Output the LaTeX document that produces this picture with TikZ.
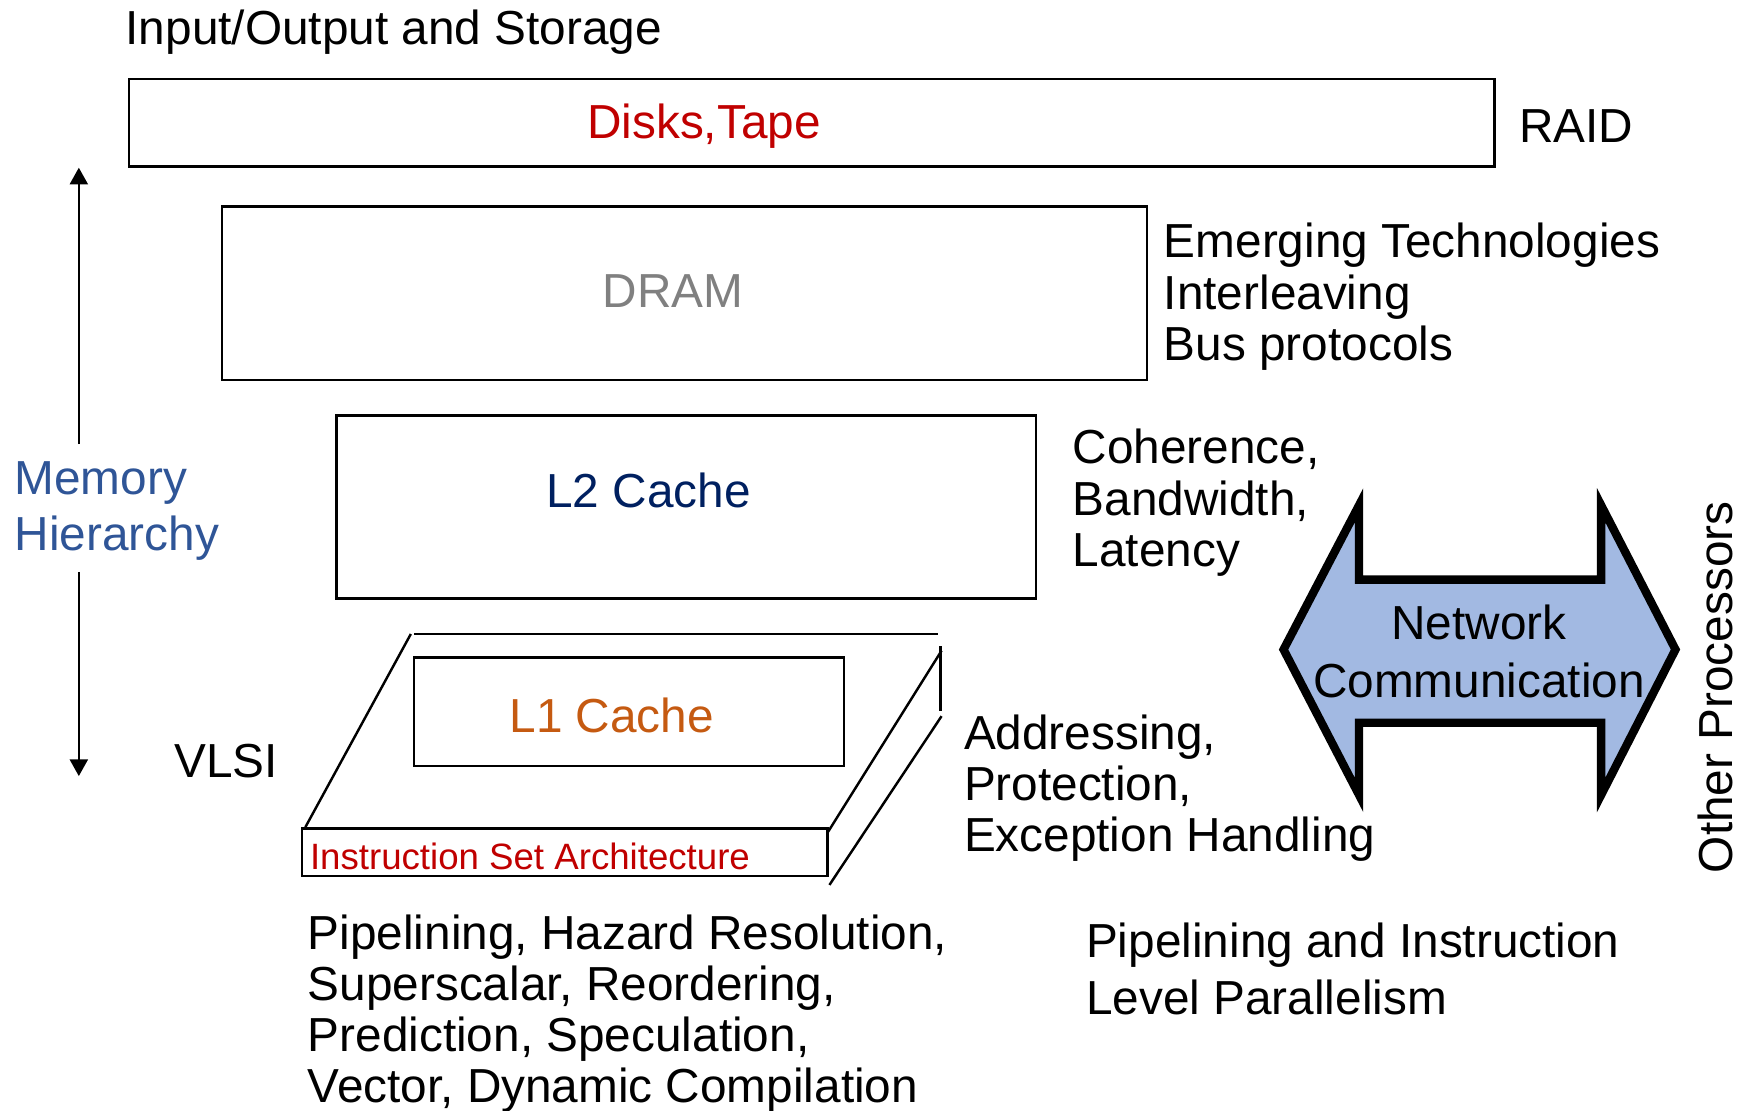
\documentclass[tikz,border=0pt]{standalone}
\usepackage{fontspec}
\setmainfont{Liberation Sans}
\usetikzlibrary{arrows.meta}
\definecolor{dred}{HTML}{C00000}
\definecolor{dgray}{HTML}{808080}
\definecolor{dnavy}{HTML}{002060}
\definecolor{dorange}{HTML}{C55A11}
\definecolor{dblue}{HTML}{2F5597}
\definecolor{netfill}{RGB}{162,185,226}
\begin{document}
\begin{tikzpicture}[x=1pt,y=-1pt,
  txt/.style={font=\fontsize{43}{46}\selectfont, inner sep=0pt, anchor=base west},
  ctxt/.style={font=\fontsize{43}{46}\selectfont, inner sep=0pt, anchor=base},
  box/.style={draw=black, line width=2.2pt, inner sep=0pt, anchor=north west},
  edgeln/.style={draw=black, line width=2.2pt},
  harrow/.style={draw=black, line width=2.4pt, -{Triangle[width=16pt,length=15pt]}}]
\useasboundingbox (0,0) rectangle (1568,1000);

% title
\node[txt] (io) at (113,40) {Input/Output and Storage};

% disks
\node[box, minimum width=1230pt, minimum height=79pt] (disk) at (115,70) {};
\node[ctxt, text=dred] (disktxt) at (634,125) {Disks,Tape};
\node[txt] (raid) at (1368,128) {RAID};

% DRAM
\node[box, minimum width=833pt, minimum height=156pt] (dram) at (199,185) {};
\node[ctxt, text=dgray] (dramtxt) at (606,277) {DRAM};
\node[txt] (em1) at (1048,232) {Emerging Technologies};
\node[txt] (em2) at (1048,279) {Interleaving};
\node[txt] (em3) at (1048,325) {Bus protocols};

% L2
\node[box, minimum width=630pt, minimum height=165pt] (ltwo) at (302,373) {};
\node[ctxt, text=dnavy] (ltwotxt) at (584,457) {L2 Cache};
\node[txt] (co1) at (966,417) {Coherence,};
\node[txt] (co2) at (966,464) {Bandwidth,};
\node[txt] (co3) at (966,510) {Latency};

% L1 platform
\draw[edgeln] (373,571) -- (845,571);
\draw[edgeln] (370,571) -- (275,745);
\draw[edgeln] (847,582) -- (847,640);
\draw[edgeln] (848,586) -- (744,752);
\draw[edgeln] (848,645) -- (747,797);
\node[box, minimum width=387pt, minimum height=98pt] (lone) at (372,591) {};
\node[ctxt, text=dorange] (lonetxt) at (551,660) {L1 Cache};
\node[box, minimum width=473pt, minimum height=43pt, fill=white] (isa) at (271,745) {};
\node[inner sep=0pt, anchor=base west, font=\fontsize{33}{36}\selectfont, text=dred] (isatxt) at (279,783) {Instruction Set Architecture};

% memory hierarchy arrow
\coordinate (mtop) at (71,151);
\coordinate (mbot) at (71,699);
\coordinate (mgap1) at (71,400);
\coordinate (mgap2) at (71,515);
\draw[harrow] (mgap1) -- (mtop);
\draw[harrow] (mgap2) -- (mbot);
\node[txt, text=dblue] (mem1) at (13,445) {Memory};
\node[txt, text=dblue] (mem2) at (13,496) {Hierarchy};
\node[txt] (vlsi) at (157,700) {VLSI};

% addressing
\node[txt] (ad1) at (868,675) {Addressing,};
\node[txt] (ad2) at (868,721) {Protection,};
\node[txt] (ad3) at (868,767) {Exception Handling};

% bottom left
\node[txt] (pp1) at (277,855) {Pipelining, Hazard Resolution,};
\node[txt] (pp2) at (277,901) {Superscalar, Reordering,};
\node[txt] (pp3) at (277,947) {Prediction, Speculation,};
\node[txt] (pp4) at (277,993) {Vector, Dynamic Compilation};

% bottom right
\node[txt] (il1) at (978,862) {Pipelining and Instruction};
\node[txt] (il2) at (978,914) {Level Parallelism};

% network arrow
\draw[line width=7.5pt, line join=miter, miter limit=10, fill=netfill]
  (1156,585) -- (1224,455) -- (1224,522) -- (1442,522) -- (1442,455) -- (1509,585)
  -- (1442,716) -- (1442,651) -- (1224,651) -- (1224,716) -- cycle;
\node[ctxt] (net1) at (1332,576) {Network};
\node[ctxt] (net2) at (1332,628) {Communication};

% other processors
\node[ctxt, rotate=90] (other) at (1560,619) {Other Processors};
\end{tikzpicture}
\end{document}
